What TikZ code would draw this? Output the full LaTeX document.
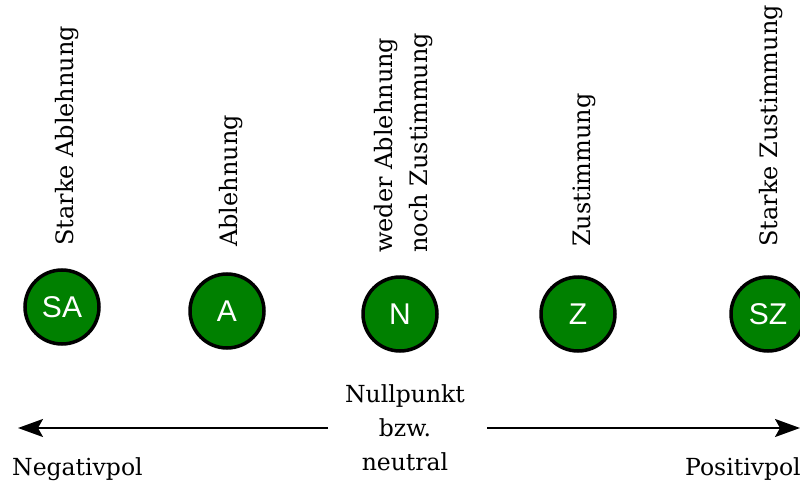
\documentclass[tikz,border=0pt]{standalone}
\usepackage{fontspec}
\usetikzlibrary{arrows.meta}
\newfontfamily\slabfont{DejaVu Serif}
\newfontfamily\arialfont{Liberation Sans}
\definecolor{nodegreen}{RGB}{0,128,0}
\tikzset{
  pole/.style={circle, draw=black, line width=3.5pt, fill=nodegreen, minimum size=74pt,
    inner sep=0pt, text=white, font=\arialfont\fontsize{30}{34}\selectfont},
  vlabel/.style={rotate=90, anchor=base west, inner sep=0pt, font=\slabfont\fontsize{24}{28}\selectfont},
  hlabel/.style={inner sep=0pt, font=\slabfont\fontsize{23.5}{28}\selectfont},
  axisarrow/.style={line width=2pt, -{Stealth[length=25pt, width=18pt, inset=5pt]}}
}
\begin{document}
\begin{tikzpicture}[x=1pt, y=-1pt]
\useasboundingbox (0,0) rectangle (800,484);
% circles
\node[pole] (SA) at (62,307) {SA};
\node[pole] (A)  at (227,311) {A};
\node[pole] (N)  at (400,314) {N};
\node[pole] (Z)  at (578,314) {Z};
\node[pole] (SZ) at (768,314) {SZ};
% rotated labels
\node[vlabel] (lSA) at (73,246) {Starke Ablehnung};
\node[vlabel] (lA)  at (237,247) {Ablehnung};
\node[vlabel] (lN1) at (392,253) {weder Ablehnung};
\node[vlabel] (lN2) at (427,253) {noch Zustimmung};
\node[vlabel] (lZ)  at (590,247) {Zustimmung};
\node[vlabel] (lSZ) at (777,247) {Starke Zustimmung};
% axis
\node[hlabel, align=center, font=\slabfont\fontsize{23.5}{34}\selectfont, anchor=north] (null) at (405,384) {Nullpunkt\\bzw.\\neutral};
\coordinate (lstart) at (328,428);
\coordinate (negtip) at (18,428);
\coordinate (rstart) at (487,428);
\coordinate (postip) at (800,428);
\draw[axisarrow] (lstart) -- (negtip);
\draw[axisarrow] (rstart) -- (postip);
\node[hlabel, anchor=base west] (neg) at (12,475) {Negativpol};
\node[hlabel, anchor=base west] (pos) at (685,475) {Positivpol};
\end{tikzpicture}
\end{document}
